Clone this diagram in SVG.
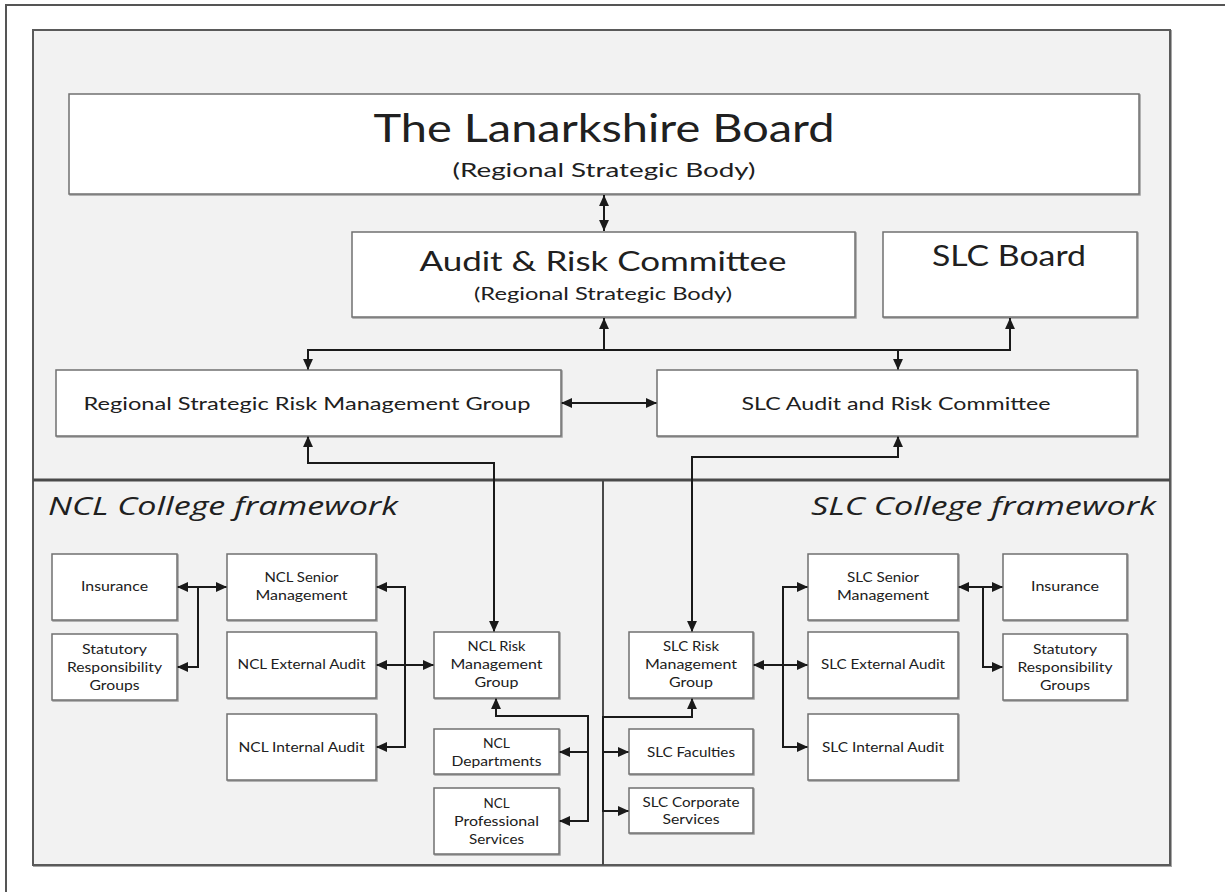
<svg xmlns="http://www.w3.org/2000/svg" width="1225" height="892" viewBox="0 0 1225 892">
<defs>
<marker id="ah" viewBox="0 0 10 10" refX="10" refY="5" markerWidth="11" markerHeight="11" markerUnits="userSpaceOnUse" orient="auto-start-reverse">
<path d="M0,0.5 L10,5 L0,9.5 z" fill="#1a1a1a"/>
</marker>
<filter id="sh" x="-5%" y="-5%" width="110%" height="110%">
<feDropShadow dx="1" dy="1" stdDeviation="0.6" flood-color="#000" flood-opacity="0.35"/>
</filter>
</defs>
<style>
.box{fill:#fff;stroke:#707070;stroke-width:1.5;filter:url(#sh)}
.t{font-family:Lato,"Open Sans",sans-serif;fill:#202020;text-anchor:middle}
.s{font-size:14px}
.m{font-size:17.5px}
.c{fill:none;stroke:#1a1a1a;stroke-width:2}
.a2{marker-start:url(#ah);marker-end:url(#ah)}
.a1{marker-end:url(#ah)}
.fw{font-family:"Open Sans",Lato,sans-serif;font-style:italic;font-size:25px;fill:#202020}
</style>
<rect x="0" y="0" width="1225" height="892" fill="#fff"/>
<rect x="6" y="5" width="1230" height="900" fill="#fff" stroke="#555" stroke-width="2"/>
<g id="panels">
<rect x="33" y="30" width="1137" height="835" fill="#f2f2f2" stroke="#5a5a5a" stroke-width="2" filter="url(#sh)"/>
<line x1="33" y1="480" x2="1170" y2="480" stroke="#4a4a4a" stroke-width="3"/>
<line x1="603" y1="480" x2="603" y2="865" stroke="#4a4a4a" stroke-width="2"/>
<text class="fw" x="48" y="515" textLength="350" lengthAdjust="spacingAndGlyphs">NCL College framework</text>
<text class="fw" x="811" y="515" textLength="345" lengthAdjust="spacingAndGlyphs">SLC College framework</text>
</g>
<g id="connectors">
<line class="c a2" x1="604" y1="195" x2="604" y2="231"/>
<line class="c a1" x1="604" y1="350" x2="604" y2="318"/>
<path class="c a2" d="M308,370 L308,350 L1010,350 L1010,318"/>
<line class="c a1" x1="898" y1="350" x2="898" y2="370"/>
<line class="c a2" x1="561" y1="403" x2="657" y2="403"/>
<path class="c a2" d="M308,436 L308,463 L494,463 L494,632"/>
<path class="c a2" d="M898,436 L898,457 L692,457 L692,632"/>
<line class="c a2" x1="177" y1="587" x2="227" y2="587"/>
<path class="c a1" d="M198,587 L198,667 L177,667"/>
<path class="c a2" d="M376,587 L405,587 L405,747 L376,747"/>
<line class="c a2" x1="376" y1="665" x2="434" y2="665"/>
<path class="c a2" d="M496,698 L496,716 L588,716 L588,821 L559,821"/>
<line class="c a1" x1="588" y1="752" x2="559" y2="752"/>
<path class="c a2" d="M692,698 L692,717 L603,717 L603,811 L629,811"/>
<line class="c a1" x1="603" y1="752" x2="629" y2="752"/>
<line class="c a2" x1="753" y1="665" x2="808" y2="665"/>
<path class="c a2" d="M808,587 L783,587 L783,747 L808,747"/>
<line class="c a2" x1="958" y1="587" x2="1003" y2="587"/>
<path class="c a1" d="M983,587 L983,667 L1003,667"/>
</g>
<g id="lanarkshire-board">
<rect class="box" x="69" y="94" width="1070" height="100"/>
<text class="t" x="604" y="142" font-size="39" textLength="461" lengthAdjust="spacingAndGlyphs">The Lanarkshire Board</text>
<text class="t" x="604" y="177" font-size="20" textLength="303" lengthAdjust="spacingAndGlyphs">(Regional Strategic Body)</text>
</g>
<g id="audit-risk-committee">
<rect class="box" x="352" y="232" width="503" height="85"/>
<text class="t" x="603" y="271" font-size="27" textLength="367" lengthAdjust="spacingAndGlyphs">Audit &amp; Risk Committee</text>
<text class="t" x="603" y="300" font-size="17" textLength="258" lengthAdjust="spacingAndGlyphs">(Regional Strategic Body)</text>
</g>
<g id="slc-board">
<rect class="box" x="883" y="232" width="254" height="85"/>
<text class="t" x="1009" y="266" font-size="29" textLength="154" lengthAdjust="spacingAndGlyphs">SLC Board</text>
</g>
<g id="rsrmg">
<rect class="box" x="56" y="370" width="505" height="66"/>
<text class="t m" x="307" y="410" textLength="447" lengthAdjust="spacingAndGlyphs">Regional Strategic Risk Management Group</text>
</g>
<g id="slc-arc">
<rect class="box" x="657" y="370" width="480" height="66"/>
<text class="t m" x="896" y="410" textLength="309" lengthAdjust="spacingAndGlyphs">SLC Audit and Risk Committee</text>
</g>
<g id="ncl-insurance">
<rect class="box" x="52" y="554" width="125" height="66"/>
<text class="t s" x="114.5" y="591" textLength="67" lengthAdjust="spacingAndGlyphs">Insurance</text>
</g>
<g id="ncl-statutory">
<rect class="box" x="52" y="634" width="125" height="66"/>
<text class="t s" x="114.5" y="654" textLength="65" lengthAdjust="spacingAndGlyphs">Statutory</text>
<text class="t s" x="114.5" y="672" textLength="95" lengthAdjust="spacingAndGlyphs">Responsibility</text>
<text class="t s" x="114.5" y="690" textLength="50" lengthAdjust="spacingAndGlyphs">Groups</text>
</g>
<g id="ncl-senior">
<rect class="box" x="227" y="554" width="149" height="66"/>
<text class="t s" x="301.5" y="582" textLength="74" lengthAdjust="spacingAndGlyphs">NCL Senior</text>
<text class="t s" x="301.5" y="600" textLength="92" lengthAdjust="spacingAndGlyphs">Management</text>
</g>
<g id="ncl-external">
<rect class="box" x="227" y="632" width="149" height="66"/>
<text class="t s" x="301.5" y="669" textLength="128" lengthAdjust="spacingAndGlyphs">NCL External Audit</text>
</g>
<g id="ncl-internal">
<rect class="box" x="227" y="714" width="149" height="66"/>
<text class="t s" x="301.5" y="752" textLength="126" lengthAdjust="spacingAndGlyphs">NCL Internal Audit</text>
</g>
<g id="ncl-risk">
<rect class="box" x="434" y="632" width="125" height="66"/>
<text class="t s" x="496.5" y="651" textLength="58" lengthAdjust="spacingAndGlyphs">NCL Risk</text>
<text class="t s" x="496.5" y="669" textLength="92" lengthAdjust="spacingAndGlyphs">Management</text>
<text class="t s" x="496.5" y="687" textLength="44" lengthAdjust="spacingAndGlyphs">Group</text>
</g>
<g id="ncl-departments">
<rect class="box" x="434" y="729" width="125" height="45"/>
<text class="t s" x="496.5" y="748" textLength="27" lengthAdjust="spacingAndGlyphs">NCL</text>
<text class="t s" x="496.5" y="766" textLength="90" lengthAdjust="spacingAndGlyphs">Departments</text>
</g>
<g id="ncl-professional">
<rect class="box" x="434" y="788" width="125" height="66"/>
<text class="t s" x="496.5" y="808" textLength="26" lengthAdjust="spacingAndGlyphs">NCL</text>
<text class="t s" x="496.5" y="826" textLength="85" lengthAdjust="spacingAndGlyphs">Professional</text>
<text class="t s" x="496.5" y="844" textLength="55" lengthAdjust="spacingAndGlyphs">Services</text>
</g>
<g id="slc-risk">
<rect class="box" x="629" y="632" width="124" height="66"/>
<text class="t s" x="691" y="651" textLength="56" lengthAdjust="spacingAndGlyphs">SLC Risk</text>
<text class="t s" x="691" y="669" textLength="92" lengthAdjust="spacingAndGlyphs">Management</text>
<text class="t s" x="691" y="687" textLength="44" lengthAdjust="spacingAndGlyphs">Group</text>
</g>
<g id="slc-faculties">
<rect class="box" x="629" y="729" width="124" height="45"/>
<text class="t s" x="691" y="757" textLength="88" lengthAdjust="spacingAndGlyphs">SLC Faculties</text>
</g>
<g id="slc-corporate">
<rect class="box" x="629" y="788" width="124" height="45"/>
<text class="t s" x="691" y="807" textLength="97" lengthAdjust="spacingAndGlyphs">SLC Corporate</text>
<text class="t s" x="691" y="824" textLength="57" lengthAdjust="spacingAndGlyphs">Services</text>
</g>
<g id="slc-senior">
<rect class="box" x="808" y="554" width="150" height="66"/>
<text class="t s" x="883" y="582" textLength="72" lengthAdjust="spacingAndGlyphs">SLC Senior</text>
<text class="t s" x="883" y="600" textLength="92" lengthAdjust="spacingAndGlyphs">Management</text>
</g>
<g id="slc-external">
<rect class="box" x="808" y="632" width="150" height="66"/>
<text class="t s" x="883" y="669" textLength="124" lengthAdjust="spacingAndGlyphs">SLC External Audit</text>
</g>
<g id="slc-internal">
<rect class="box" x="808" y="714" width="150" height="66"/>
<text class="t s" x="883" y="752" textLength="122" lengthAdjust="spacingAndGlyphs">SLC Internal Audit</text>
</g>
<g id="slc-insurance">
<rect class="box" x="1003" y="554" width="124" height="66"/>
<text class="t s" x="1065" y="591" textLength="68" lengthAdjust="spacingAndGlyphs">Insurance</text>
</g>
<g id="slc-statutory">
<rect class="box" x="1003" y="634" width="124" height="66"/>
<text class="t s" x="1065" y="654" textLength="64" lengthAdjust="spacingAndGlyphs">Statutory</text>
<text class="t s" x="1065" y="672" textLength="95" lengthAdjust="spacingAndGlyphs">Responsibility</text>
<text class="t s" x="1065" y="690" textLength="50" lengthAdjust="spacingAndGlyphs">Groups</text>
</g>
</svg>
